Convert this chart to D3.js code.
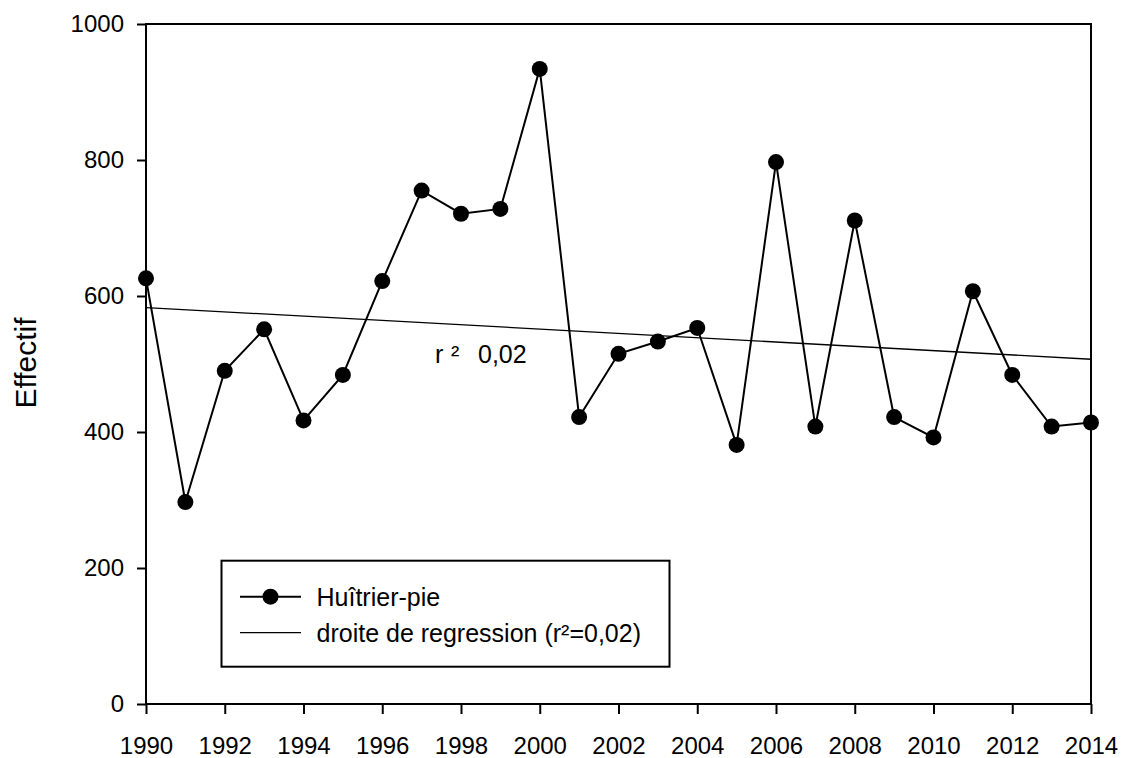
<!DOCTYPE html>
<html>
<head>
<meta charset="utf-8">
<script src="https://cdn.jsdelivr.net/npm/d3@7"></script>
<style>
  body { margin: 0; background: #fff; }
  svg { font-family: "Liberation Sans", Arial, sans-serif; }
</style>
</head>
<body>
<div id="main-container"></div>
<script>
// données
const annees = [1990, 1991, 1992, 1993, 1994, 1995, 1996, 1997, 1998, 1999, 2000, 2001, 2002,
    2003, 2004, 2005, 2006, 2007, 2008, 2009, 2010, 2011, 2012, 2013, 2014];
const effectifs = [626, 297, 490, 551, 417, 484, 622, 755, 721, 728, 934, 422, 515,
    533, 553, 381, 797, 408, 711, 422, 392, 607, 484, 408, 414];
const regressionAnnees = [1990, 2014];
const regressionValeurs = [583, 507];
const ticksX = [1990, 1992, 1994, 1996, 1998, 2000, 2002, 2004, 2006, 2008, 2010, 2012, 2014];
const ticksY = [0, 200, 400, 600, 800, 1000];
const serieNom = "Huîtrier-pie";
const regressionNom = "droite de regression (r²=0,02)";

const width = 1124, height = 758;
const margin = {left: 146, right: 1091, top: 24, bottom: 704};
const color = "#000";

const svg = d3.select("#main-container").append("svg")
    .attr("width", width)
    .attr("height", height);

const escalaX = d3.scaleLinear()
    .domain([1990, 2014])
    .range([margin.left, margin.right]);
const escalaY = d3.scaleLinear()
    .domain([0, 1000])
    .range([margin.bottom, margin.top]);

// cadre
svg.append("rect")
    .attr("x", margin.left)
    .attr("y", margin.top)
    .attr("width", margin.right - margin.left)
    .attr("height", margin.bottom - margin.top)
    .attr("fill", "none")
    .attr("stroke", color)
    .attr("stroke-width", 2);

// axe Y
const axisY = d3.axisLeft(escalaY).tickValues(ticksY).tickFormat(d3.format("d"))
    .tickSize(9).tickPadding(13).tickSizeOuter(0);
const gY = svg.append("g")
    .attr("transform", `translate(${margin.left},0)`)
    .call(axisY);
gY.select(".domain").remove();
gY.selectAll("line").attr("stroke", color).attr("stroke-width", 2);
gY.selectAll("text").attr("font-size", 24).attr("fill", color).attr("font-family", null);

// axe X
const axisX = d3.axisBottom(escalaX).tickValues(ticksX).tickFormat(d3.format("d"))
    .tickSize(10).tickPadding(23).tickSizeOuter(0);
const gX = svg.append("g")
    .attr("transform", `translate(0,${margin.bottom})`)
    .call(axisX);
gX.select(".domain").remove();
gX.selectAll("line").attr("stroke", color).attr("stroke-width", 2);
gX.selectAll("text").attr("font-size", 24).attr("fill", color).attr("font-family", null);

// titre de l'axe Y
svg.append("text")
    .attr("transform", "translate(36,363) rotate(-90)")
    .attr("text-anchor", "middle")
    .attr("font-size", 30)
    .attr("fill", color)
    .text("Effectif");

// droite de regression
const regression = regressionAnnees.map((d, i) => ({x: d, y: regressionValeurs[i]}));
svg.append("path")
    .datum(regression)
    .attr("fill", "none")
    .attr("stroke", color)
    .attr("stroke-width", 1.3)
    .attr("d", d3.line().x(d => escalaX(d.x)).y(d => escalaY(d.y)));

// série
const datos = annees.map((d, i) => ({x: d, y: effectifs[i]}));
svg.append("path")
    .datum(datos)
    .attr("fill", "none")
    .attr("stroke", color)
    .attr("stroke-width", 2)
    .attr("d", d3.line().x(d => escalaX(d.x)).y(d => escalaY(d.y)));

svg.selectAll("circle.point")
    .data(datos)
    .join("circle")
    .attr("class", "point")
    .attr("cx", d => escalaX(d.x))
    .attr("cy", d => escalaY(d.y))
    .attr("r", 8)
    .attr("fill", color);

// annotation r²
const annot = svg.append("g").attr("font-size", 25).attr("fill", color);
annot.append("text").attr("x", 435).attr("y", 363).text("r");
annot.append("text").attr("x", 451).attr("y", 363).text("²");
annot.append("text").attr("x", 478).attr("y", 363).text("0,02");

// légende
const legende = svg.append("g").attr("transform", "translate(221.5,560.7)");
legende.append("rect")
    .attr("width", 448)
    .attr("height", 106)
    .attr("fill", "#fff")
    .attr("stroke", color)
    .attr("stroke-width", 2);

legende.append("line")
    .attr("x1", 18.5).attr("x2", 79.5)
    .attr("y1", 36).attr("y2", 36)
    .attr("stroke", color).attr("stroke-width", 2);
legende.append("circle")
    .attr("cx", 49).attr("cy", 36).attr("r", 8).attr("fill", color);
legende.append("text")
    .attr("x", 95).attr("y", 45.5)
    .attr("font-size", 25).attr("fill", color)
    .text(serieNom);

legende.append("line")
    .attr("x1", 18.5).attr("x2", 79.5)
    .attr("y1", 72).attr("y2", 72)
    .attr("stroke", color).attr("stroke-width", 1.3);
legende.append("text")
    .attr("x", 95).attr("y", 81.5)
    .attr("font-size", 25).attr("fill", color)
    .text(regressionNom);
</script>
</body>
</html>
